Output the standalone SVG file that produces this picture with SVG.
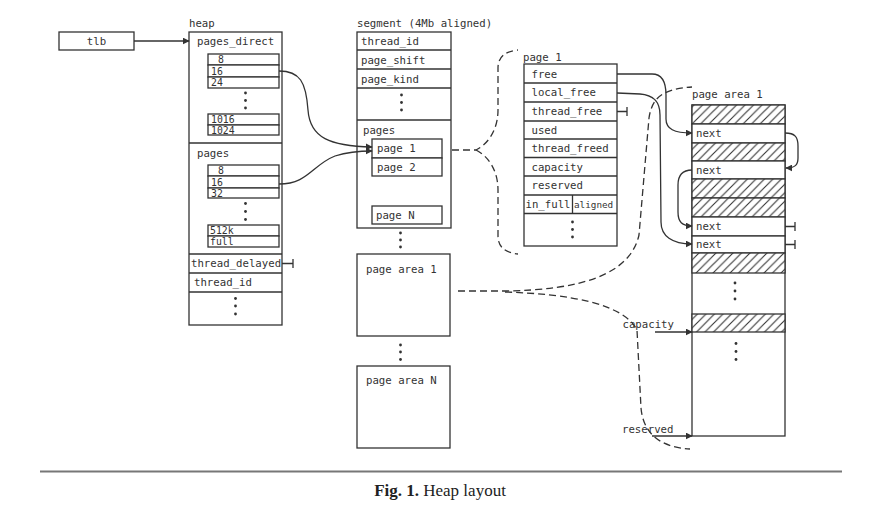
<svg xmlns="http://www.w3.org/2000/svg" width="880" height="515" viewBox="0 0 880 515">
<defs>
<style>
.b{fill:#fff;stroke:#333;stroke-width:1.3}
.n{fill:none;stroke:#333;stroke-width:1.3}
.h{fill:url(#hatch);stroke:#333;stroke-width:1.3}
.t{font-family:"DejaVu Sans Mono","Liberation Mono",monospace;font-size:10.7px;fill:#333}
.i{font-family:"DejaVu Sans Mono","Liberation Mono",monospace;font-size:9.8px;fill:#333}
.s{font-family:"DejaVu Sans Mono","Liberation Mono",monospace;font-size:9.3px;fill:#333}
.c{fill:none;stroke:#333;stroke-width:1.3}
.a{fill:none;stroke:#333;stroke-width:1.3;marker-end:url(#arr)}
.d{fill:none;stroke:#333;stroke-width:1.3;stroke-dasharray:7 4}
.dot{fill:#333}
</style>
<marker id="arr" viewBox="0 0 10 10" refX="9" refY="5" markerWidth="7" markerHeight="7" markerUnits="userSpaceOnUse" orient="auto">
<path d="M0,0 L10,5 L0,10 z" fill="#333"/>
</marker>
<pattern id="hatch" patternUnits="userSpaceOnUse" width="8.5" height="8.5">
<rect width="8.5" height="8.5" fill="#fff"/>
<path d="M-1,9.5 L9.5,-1 M-2,2 L2,-2 M6.5,10.5 L10.5,6.5" stroke="#333" stroke-width="1.1"/>
</pattern>
</defs>
<rect width="880" height="515" fill="#fff"/>

<g id="tlb">
<rect class="b" x="59" y="32" width="75" height="18"/>
<text class="t" x="96.5" y="45" text-anchor="middle">tlb</text>
</g>

<g id="heap">
<text class="t" x="189" y="27">heap</text>
<rect class="b" x="189" y="32" width="93" height="293"/>
<line class="n" x1="189" y1="143" x2="282" y2="143"/>
<line class="n" x1="189" y1="254" x2="282" y2="254"/>
<line class="n" x1="189" y1="273" x2="282" y2="273"/>
<line class="n" x1="189" y1="292" x2="282" y2="292"/>
<text class="t" x="197" y="45">pages_direct</text>
<rect class="b" x="208" y="54" width="71" height="11"/>
<rect class="b" x="208" y="65" width="71" height="12"/>
<rect class="b" x="208" y="77" width="71" height="11"/>
<text class="i" x="218" y="63">8</text>
<text class="i" x="211" y="74.5">16</text>
<text class="i" x="211" y="86">24</text>
<circle class="dot" cx="245.5" cy="93" r="1.4"/>
<circle class="dot" cx="245.5" cy="100.5" r="1.4"/>
<circle class="dot" cx="245.5" cy="108" r="1.4"/>
<rect class="b" x="208" y="114" width="71" height="11"/>
<rect class="b" x="208" y="125" width="71" height="10"/>
<text class="i" x="211" y="123">1016</text>
<text class="i" x="211" y="133.5">1024</text>
<text class="t" x="197" y="157">pages</text>
<rect class="b" x="208" y="165" width="71" height="11"/>
<rect class="b" x="208" y="176" width="71" height="12"/>
<rect class="b" x="208" y="188" width="71" height="10"/>
<text class="i" x="218" y="174">8</text>
<text class="i" x="211" y="185.5">16</text>
<text class="i" x="211" y="196.5">32</text>
<circle class="dot" cx="245.5" cy="203.5" r="1.4"/>
<circle class="dot" cx="245.5" cy="211.5" r="1.4"/>
<circle class="dot" cx="245.5" cy="219.5" r="1.4"/>
<rect class="b" x="208" y="225" width="71" height="11"/>
<rect class="b" x="208" y="236" width="71" height="11"/>
<text class="i" x="210" y="234">512k</text>
<text class="i" x="210" y="245">full</text>
<text class="t" x="191" y="267">thread_delayed</text>
<text class="t" x="194" y="286">thread_id</text>
<circle class="dot" cx="235.5" cy="298.5" r="1.4"/>
<circle class="dot" cx="235.5" cy="306" r="1.4"/>
<circle class="dot" cx="235.5" cy="314" r="1.4"/>
</g>

<g id="segment">
<text class="t" x="357" y="27">segment (4Mb aligned)</text>
<rect class="b" x="357" y="32" width="94" height="196"/>
<line class="n" x1="357" y1="50" x2="451" y2="50"/>
<line class="n" x1="357" y1="69" x2="451" y2="69"/>
<line class="n" x1="357" y1="88" x2="451" y2="88"/>
<line class="n" x1="357" y1="120" x2="451" y2="120"/>
<text class="t" x="361" y="45">thread_id</text>
<text class="t" x="361" y="63.5">page_shift</text>
<text class="t" x="361" y="82.5">page_kind</text>
<circle class="dot" cx="401.5" cy="95" r="1.4"/>
<circle class="dot" cx="401.5" cy="102.5" r="1.4"/>
<circle class="dot" cx="401.5" cy="110" r="1.4"/>
<text class="t" x="363" y="134">pages</text>
<rect class="b" x="372" y="139" width="70" height="19"/>
<rect class="b" x="372" y="158" width="70" height="18"/>
<text class="t" x="377" y="152">page 1</text>
<text class="t" x="377" y="170.5">page 2</text>
<rect class="b" x="372" y="206" width="70" height="18"/>
<text class="t" x="376" y="219">page N</text>
<circle class="dot" cx="400.5" cy="233" r="1.4"/>
<circle class="dot" cx="400.5" cy="240" r="1.4"/>
<circle class="dot" cx="400.5" cy="247" r="1.4"/>
</g>

<g id="seg-page-area-1">
<rect class="b" x="357" y="254" width="93" height="82"/>
<text class="t" x="366" y="273">page area 1</text>
<circle class="dot" cx="400.5" cy="345" r="1.4"/>
<circle class="dot" cx="400.5" cy="352" r="1.4"/>
<circle class="dot" cx="400.5" cy="359.5" r="1.4"/>
</g>

<g id="seg-page-area-N">
<rect class="b" x="357" y="366" width="93" height="82"/>
<text class="t" x="366" y="384">page area N</text>
</g>

<g id="page1">
<text class="t" x="523" y="61">page 1</text>
<rect class="b" x="524" y="64" width="93" height="182"/>
<line class="n" x1="524" y1="83" x2="617" y2="83"/>
<line class="n" x1="524" y1="102" x2="617" y2="102"/>
<line class="n" x1="524" y1="121" x2="617" y2="121"/>
<line class="n" x1="524" y1="139" x2="617" y2="139"/>
<line class="n" x1="524" y1="157.5" x2="617" y2="157.5"/>
<line class="n" x1="524" y1="176" x2="617" y2="176"/>
<line class="n" x1="524" y1="195" x2="617" y2="195"/>
<line class="n" x1="524" y1="213.5" x2="617" y2="213.5"/>
<line class="n" x1="572.5" y1="195" x2="572.5" y2="213.5" stroke-width="1.8"/>
<text class="t" x="531.5" y="77.5">free</text>
<text class="t" x="531.5" y="96">local_free</text>
<text class="t" x="531.5" y="115">thread_free</text>
<text class="t" x="531.5" y="133.5">used</text>
<text class="t" x="531.5" y="152">thread_freed</text>
<text class="t" x="531.5" y="170.5">capacity</text>
<text class="t" x="531.5" y="189">reserved</text>
<text class="t" x="525.5" y="208">in_full</text>
<text class="s" x="574" y="207.5">aligned</text>
<circle class="dot" cx="572.5" cy="222" r="1.4"/>
<circle class="dot" cx="572.5" cy="229.5" r="1.4"/>
<circle class="dot" cx="572.5" cy="237" r="1.4"/>
</g>

<g id="page-area-1">
<text class="t" x="692" y="98">page area 1</text>
<rect class="b" x="692" y="105" width="93" height="331"/>
<rect class="h" x="692" y="105" width="93" height="19"/>
<rect class="b" x="692" y="124" width="93" height="19"/>
<rect class="h" x="692" y="143" width="93" height="18"/>
<rect class="b" x="692" y="161" width="93" height="18"/>
<rect class="h" x="692" y="179" width="93" height="19"/>
<rect class="h" x="692" y="198" width="93" height="19"/>
<rect class="b" x="692" y="217" width="93" height="19"/>
<rect class="b" x="692" y="236" width="93" height="17"/>
<rect class="h" x="692" y="253" width="93" height="20"/>
<rect class="h" x="692" y="314" width="93" height="18"/>
<text class="t" x="696" y="137">next</text>
<text class="t" x="696" y="173.5">next</text>
<text class="t" x="696" y="230">next</text>
<text class="t" x="696" y="248">next</text>
<circle class="dot" cx="735" cy="283" r="1.4"/>
<circle class="dot" cx="735" cy="291" r="1.4"/>
<circle class="dot" cx="735" cy="299" r="1.4"/>
<circle class="dot" cx="736" cy="343.5" r="1.4"/>
<circle class="dot" cx="736" cy="351.5" r="1.4"/>
<circle class="dot" cx="736" cy="359.5" r="1.4"/>
<text class="t" x="622.5" y="328">capacity</text>
<text class="t" x="622" y="433">reserved</text>
</g>

<g id="connectors">
<path class="a" d="M134 41 L189 41"/>
<path class="a" d="M279 71 C300 71 306 82 308 110 C310 138 330 146 372 147"/>
<path class="a" d="M279 184 C308 184 312 165 335 156 C348 152 358 151 372 151"/>
<path class="c" d="M282 263.5 L293 263.5 M293 259 L293 268"/>
<path class="c" d="M617 111.5 L627 111.5 M627 107 L627 116"/>
<path class="a" d="M617 74 L652 74 C662 74 666 82 666 95 L666 119 C666 129 674 133 692 133"/>
<path class="a" d="M617 93 L640 94 C652 95 660 100 660 115 L661 222 C661 236 672 244 692 244"/>
<path class="a" d="M785 133 C795 133 798 137 798 146 L798 158 C798 165 795 168 786 168"/>
<path class="a" d="M692 170 C682 170 678 175 678 185 L678 212 C678 222 682 226 692 226"/>
<path class="c" d="M785 226.5 L795 226.5 M795 222 L795 231"/>
<path class="c" d="M785 244.5 L795 244.5 M795 240 L795 249"/>
<path class="a" d="M655 332 L692 332"/>
<path class="a" d="M652 436 L692 436"/>
<path class="d" d="M452 150 L476 150 C488 144 498 130 498 110 L498 68 Q498 52 518 50"/>
<path class="d" d="M476 150 C488 156 498 170 498 190 L498 236 Q498 252 518 254"/>
<path class="d" d="M458 291 L505 291 C580 290 630 275 639 235 L649 118 C652 98 662 89 692 87"/>
<path class="d" d="M505 292 C570 294 624 304 637 330 L641 408 C643 430 656 447 690 449"/>
</g>

<g id="caption">
<line x1="40" y1="471.5" x2="842" y2="471.5" stroke="#777" stroke-width="2"/>
<text x="440" y="496" text-anchor="middle" font-family="Liberation Serif, serif" font-size="17" fill="#222"><tspan font-weight="bold">Fig. 1.</tspan> Heap layout</text>
</g>
</svg>
